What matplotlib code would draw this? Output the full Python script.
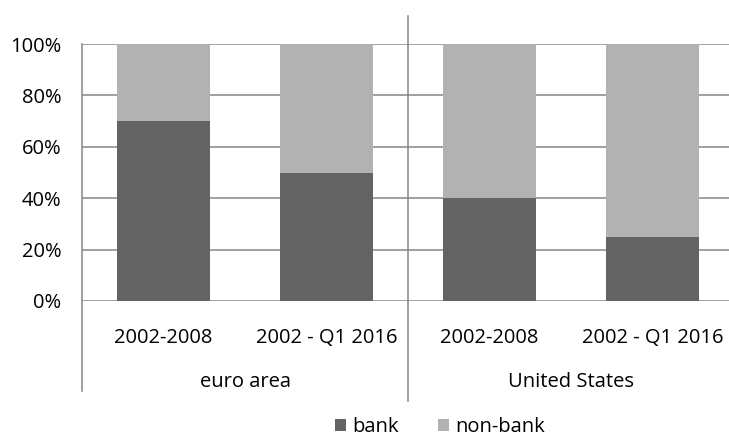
import matplotlib
matplotlib.use("Agg")
import matplotlib.pyplot as plt

# data
regions = ["euro area", "United States"]
periods = ["2002-2008", "2002 - Q1 2016", "2002-2008", "2002 - Q1 2016"]
bank = [0.70, 0.50, 0.40, 0.25]
non_bank = [1 - b for b in bank]
yticks = [0, 0.2, 0.4, 0.6, 0.8, 1.0]

plt.rcParams['font.family'] = ['Open Sans', 'DejaVu Sans']
FS = 14.5

fig = plt.figure(figsize=(7.29, 4.4), dpi=100)
W, H = 729, 440
# plot area in pixels: left 82, right 734, top 44, bottom 301
ax = fig.add_axes([82 / W, (H - 301) / H, (734 - 82) / W, (301 - 44) / H])

x = list(range(len(periods)))
grid_col = '#868686'
for t in yticks:
    ax.axhline(t, color=grid_col, lw=1.1, zorder=1)

ax.bar(x, bank, width=0.575, color='#636363', label='bank', zorder=2)
ax.bar(x, non_bank, bottom=bank, width=0.575, color='#b2b2b2', label='non-bank', zorder=2)

ax.set_xlim(-0.5, 3.5)
ax.set_ylim(0, 1)
for s in ax.spines.values():
    s.set_visible(False)
ax.set_xticks([])
ax.set_yticks(yticks)
ax.set_yticklabels([f"{int(round(t * 100))}%" for t in yticks], fontsize=FS)
ax.tick_params(axis='y', length=0, pad=15)

px = 1 / 257.0  # one pixel in data units (y)
# left axis line and group separator
ax.plot([-0.5, -0.5], [1.0, -90 * px], color=grid_col, lw=1.1, clip_on=False, zorder=3)
ax.plot([1.5, 1.5], [285 * px, -100 * px], color=grid_col, lw=1.1, clip_on=False, zorder=3)

# category and group labels
for xi, p in zip(x, periods):
    ax.text(xi, -37 * px, p, ha='center', va='center', fontsize=FS, color='#000000')
for gi, r in enumerate(regions):
    ax.text(gi * 2 + 0.5, -81 * px, r, ha='center', va='center', fontsize=FS)

fig.legend(loc='center', bbox_to_anchor=(440 / W, (H - 427) / H), ncol=2, frameon=False,
           fontsize=FS, handlelength=0.55, handleheight=0.55, handletextpad=0.35,
           columnspacing=1.9, borderaxespad=0)

fig.savefig("out.png", dpi=100)
